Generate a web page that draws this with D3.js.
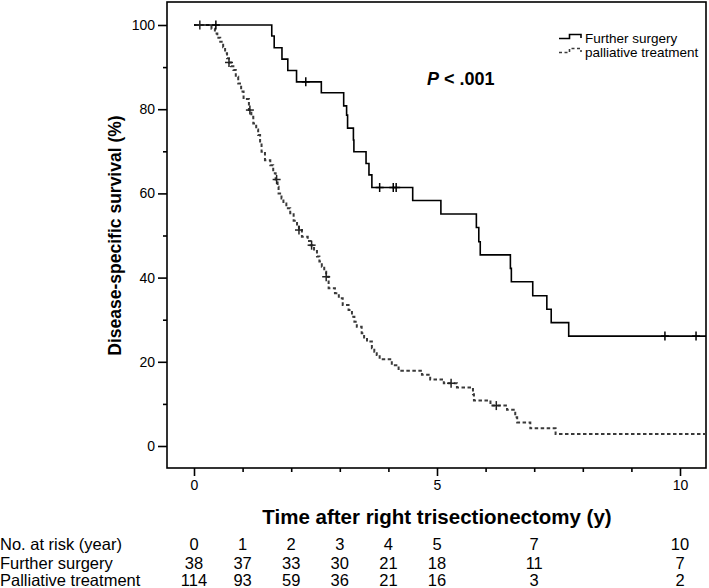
<!DOCTYPE html>
<html>
<head>
<meta charset="utf-8">
<script src="https://cdn.jsdelivr.net/npm/d3@7"></script>
<style>
  html, body { margin: 0; padding: 0; background: #fff; }
  svg { display: block; }
</style>
</head>
<body>
<svg id="chart" width="709" height="588"></svg>
<script>
// ---------------- DATA ----------------
const surgeryTimes = [0, 1.60, 1.65, 1.81, 1.93, 2.11, 2.62, 3.08, 3.14, 3.16, 3.28, 3.29, 3.54, 3.60, 3.66, 4.50, 5.08, 5.81, 5.86, 5.89, 6.51, 6.53, 6.97, 7.26, 7.35, 7.71];
const surgerySurv  = [100, 97.4, 94.6, 91.9, 89.2, 86.5, 83.9, 80.8, 78.6, 75.5, 72.7, 69.9, 67.1, 64.4, 61.4, 58.3, 55.1, 51.9, 48.5, 45.4, 42.2, 39.0, 35.7, 32.5, 29.3, 26.1];
const surgeryCensor = [0.45, 2.30, 3.82, 4.10, 4.16, 9.69, 10.33];

const palliativeTimes = [0, 0.36, 0.43, 0.48, 0.54, 0.60, 0.64, 0.68, 0.72, 0.76, 0.81, 0.86, 0.91, 0.97, 1.02, 1.13, 1.18, 1.22, 1.28, 1.32, 1.36, 1.39, 1.46, 1.57, 1.63, 1.68, 1.72, 1.74, 1.80, 1.84, 1.90, 1.98, 2.05, 2.12, 2.16, 2.22, 2.34, 2.40, 2.47, 2.53, 2.58, 2.63, 2.68, 2.72, 2.77, 2.90, 2.98, 3.06, 3.18, 3.25, 3.30, 3.35, 3.45, 3.50, 3.56, 3.66, 3.71, 3.76, 3.82, 4.07, 4.21, 4.69, 4.86, 5.14, 5.41, 5.74, 5.76, 6.10, 6.44, 6.61, 6.65, 6.92, 7.44];
const palliativeSurv  = [100, 99.1, 98.0, 97.0, 96.0, 94.7, 93.3, 92.1, 91.1, 90.2, 89.3, 87.7, 86.1, 84.2, 82.4, 79.8, 78.2, 76.6, 75.2, 73.9, 71.9, 69.9, 67.9, 66.7, 64.8, 63.3, 61.6, 60.0, 58.8, 57.6, 56.5, 55.3, 53.5, 52.0, 51.3, 49.7, 48.7, 47.7, 46.3, 45.0, 43.8, 42.6, 41.4, 40.2, 37.5, 36.3, 35.1, 33.5, 32.3, 30.7, 29.5, 28.3, 26.8, 25.8, 24.8, 23.2, 22.4, 21.6, 20.6, 19.2, 17.9, 16.9, 15.8, 14.9, 13.9, 12.3, 10.8, 9.6, 8.6, 6.8, 5.6, 4.2, 2.85];
const palliativeCensor = [0.12, 0.72, 1.15, 1.70, 2.16, 2.42, 2.72, 5.29, 6.22];

const yTicksMajor = [0, 20, 40, 60, 80, 100];
const yTicksMinor = [10, 30, 50, 70, 90];
const xTicksMajor = [0, 5, 10];
const xTicksMinor = [1, 2, 3, 4, 6, 7, 8, 9];

const seriesNames = ["Further surgery", "palliative treatment"];
const riskYears = [0, 1, 2, 3, 4, 5, 7, 10];
const riskRowLabels = ["No. at risk (year)", "Further surgery", "Palliative treatment"];
const riskSurgery = [38, 37, 33, 30, 21, 18, 11, 7];
const riskPalliative = [114, 93, 59, 36, 21, 16, 3, 2];

// ---------------- LAYOUT ----------------
const frame = { left: 167, top: 2, right: 706, bottom: 468 };
const svg = d3.select("#chart");
const x = d3.scaleLinear().domain([0, 10]).range([194, 680]);
const y = d3.scaleLinear().domain([0, 100]).range([446, 25]);
const tEnd = x.invert(frame.right);

const FONT = "'Liberation Sans', Arial, sans-serif";
const NARROW = "'Liberation Sans Narrow', 'Arial Narrow', 'Liberation Sans', Arial, sans-serif";

// frame
svg.append("rect")
  .attr("x", frame.left).attr("y", frame.top)
  .attr("width", frame.right - frame.left).attr("height", frame.bottom - frame.top)
  .attr("fill", "none").attr("stroke", "#000").attr("stroke-width", 1.6);

// axes
function styleAxis(g) {
  g.select(".domain").remove();
  g.selectAll(".tick line").attr("stroke", "#000").attr("stroke-width", 1.6);
  g.selectAll(".tick text").attr("font-family", FONT).attr("font-size", 14).attr("fill", "#000");
}
svg.append("g").attr("transform", `translate(${frame.left},0)`)
  .call(d3.axisLeft(y).tickValues(yTicksMajor).tickSize(9).tickPadding(3).tickFormat(d3.format("d")))
  .call(styleAxis);
svg.append("g").attr("transform", `translate(${frame.left},0)`)
  .call(d3.axisLeft(y).tickValues(yTicksMinor).tickSize(4).tickFormat(""))
  .call(styleAxis);
svg.append("g").attr("transform", `translate(0,${frame.bottom})`)
  .call(d3.axisBottom(x).tickValues(xTicksMajor).tickSize(8).tickPadding(4).tickFormat(d3.format("d")))
  .call(styleAxis);
svg.append("g").attr("transform", `translate(0,${frame.bottom})`)
  .call(d3.axisBottom(x).tickValues(xTicksMinor).tickSize(4).tickFormat(""))
  .call(styleAxis);

// axis titles
svg.append("text")
  .attr("transform", `translate(121,${(y(0) + y(100)) / 2}) rotate(-90)`)
  .attr("text-anchor", "middle")
  .attr("font-family", FONT).attr("font-weight", "bold").attr("font-size", 17.5)
  .text("Disease-specific survival (%)");
svg.append("text")
  .attr("x", x(5)).attr("y", 524)
  .attr("text-anchor", "middle")
  .attr("font-family", FONT).attr("font-weight", "bold").attr("font-size", 20.5)
  .text("Time after right trisectionectomy (y)");

// curves
function stepData(times, surv) {
  const d = times.map((t, i) => [t, surv[i]]);
  d.push([tEnd, surv[surv.length - 1]]);
  return d;
}
function survAt(times, surv, t) {
  let v = surv[0];
  for (let i = 0; i < times.length; i++) if (times[i] <= t) v = surv[i];
  return v;
}
const line = d3.line().x(d => x(d[0])).y(d => y(d[1])).curve(d3.curveStepAfter);

svg.append("path").datum(stepData(palliativeTimes, palliativeSurv))
  .attr("d", line).attr("fill", "none")
  .attr("stroke", "#3a3a3a").attr("stroke-width", 2).attr("stroke-dasharray", "3.5,2.5");
svg.append("path").datum(stepData(surgeryTimes, surgerySurv))
  .attr("d", line).attr("fill", "none")
  .attr("stroke", "#000").attr("stroke-width", 1.6);

function censors(times, surv, cens, color) {
  const g = svg.append("g").attr("stroke", color).attr("stroke-width", 1.5);
  cens.forEach(t => {
    const cx = x(t), cy = y(survAt(times, surv, t));
    g.append("line").attr("x1", cx).attr("x2", cx).attr("y1", cy - 4.5).attr("y2", cy + 4.5);
    g.append("line").attr("x1", cx - 4).attr("x2", cx + 4).attr("y1", cy).attr("y2", cy);
  });
}
censors(palliativeTimes, palliativeSurv, palliativeCensor, "#222");
censors(surgeryTimes, surgerySurv, surgeryCensor, "#000");

// legend
const legend = svg.append("g");
legend.append("path").attr("d", "M559,38.5H569.5V34.5H581V38")
  .attr("fill", "none").attr("stroke", "#000").attr("stroke-width", 1.6);
legend.append("path").attr("d", "M559,52.5H569.5V48.5H581V52")
  .attr("fill", "none").attr("stroke", "#3a3a3a").attr("stroke-width", 1.6).attr("stroke-dasharray", "3,2.5");
legend.selectAll("text.leg").data(seriesNames).join("text")
  .attr("x", 585).attr("y", (d, i) => 42.5 + i * 14.5)
  .attr("font-family", FONT).attr("font-size", 13.5).attr("fill", "#000")
  .text(d => d);

// P value
const pt = svg.append("text").attr("x", 427).attr("y", 85)
  .attr("font-family", FONT).attr("font-weight", "bold").attr("font-size", 18);
pt.append("tspan").attr("font-style", "italic").text("P");
pt.append("tspan").text(" < .001");

// risk table
const rows = [riskYears, riskSurgery, riskPalliative];
const rowY = [550, 569, 586];
rows.forEach((vals, r) => {
  svg.append("text").attr("x", 0).attr("y", rowY[r])
    .attr("font-family", NARROW).attr("font-size", 16.5).attr("fill", "#000")
    .text(riskRowLabels[r]);
  svg.append("g").selectAll("text").data(vals).join("text")
    .attr("x", (d, i) => x(riskYears[i])).attr("y", rowY[r])
    .attr("text-anchor", "middle")
    .attr("font-family", NARROW).attr("font-size", 16.5).attr("fill", "#000")
    .text(d => d);
});
</script>
</body>
</html>
